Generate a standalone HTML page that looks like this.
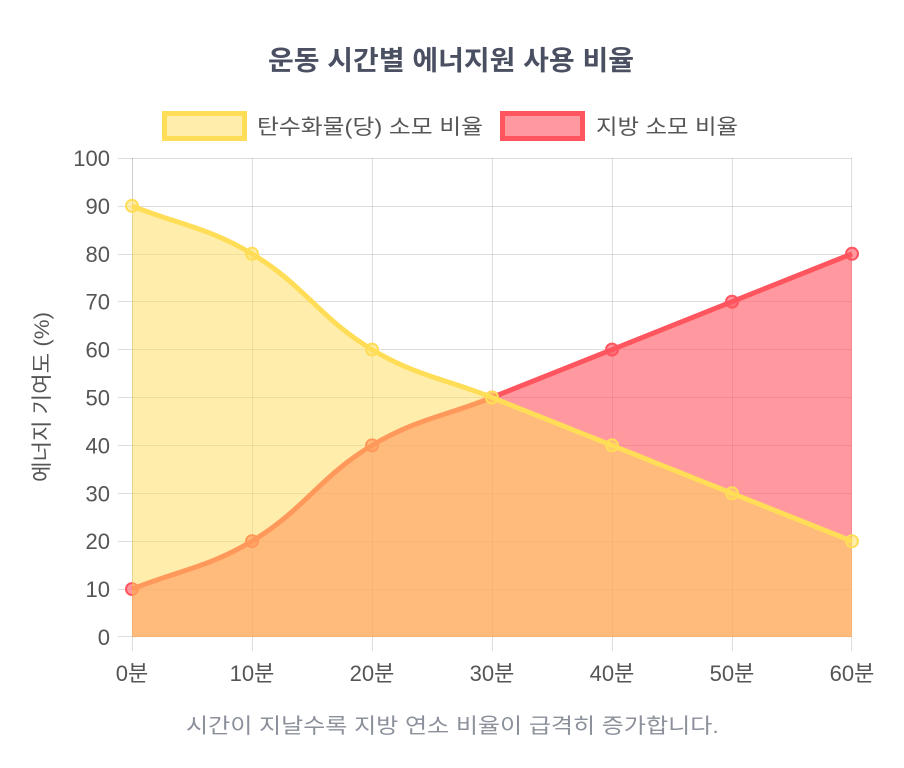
<!DOCTYPE html>
<html>
<head>
<meta charset="utf-8">
<style>
  html,body{margin:0;padding:0;background:#fff;}
  svg{display:block;}
  .t{font-family:"Liberation Sans","Noto Sans CJK KR",sans-serif;}
</style>
</head>
<body>
<svg width="904" height="768" viewBox="0 0 904 768" xmlns="http://www.w3.org/2000/svg">
  <rect width="904" height="768" fill="#fff"/>

  <!-- Title -->
  <text class="t" x="268" y="70" font-size="27" font-weight="bold" fill="#4a5062" textLength="366" lengthAdjust="spacingAndGlyphs">운동 시간별 에너지원 사용 비율</text>

  <!-- Legend -->
  <rect x="164.5" y="113.5" width="80" height="25" fill="rgba(255,221,87,0.5)" stroke="rgb(255,221,87)" stroke-width="5"/>
  <text class="t" x="257" y="134" font-size="21" fill="#555" textLength="226" lengthAdjust="spacingAndGlyphs">탄수화물(당) 소모 비율</text>
  <rect x="502.5" y="113.5" width="80" height="25" fill="rgba(255,85,95,0.6)" stroke="rgb(255,85,95)" stroke-width="5"/>
  <text class="t" x="596" y="134" font-size="21" fill="#555" textLength="142" lengthAdjust="spacingAndGlyphs">지방 소모 비율</text>

  <!-- Grid -->
  <g stroke="rgba(0,0,0,0.13)" stroke-width="1">
    <line x1="118" y1="158.5" x2="852" y2="158.5"/>
    <line x1="118" y1="206.5" x2="852" y2="206.5"/>
    <line x1="118" y1="254.5" x2="852" y2="254.5"/>
    <line x1="118" y1="301.5" x2="852" y2="301.5"/>
    <line x1="118" y1="349.5" x2="852" y2="349.5"/>
    <line x1="118" y1="397.5" x2="852" y2="397.5"/>
    <line x1="118" y1="445.5" x2="852" y2="445.5"/>
    <line x1="118" y1="493.5" x2="852" y2="493.5"/>
    <line x1="118" y1="541.5" x2="852" y2="541.5"/>
    <line x1="118" y1="589.5" x2="852" y2="589.5"/>
    <line x1="118" y1="636.5" x2="852" y2="636.5"/>
    <line x1="132.5" y1="158" x2="132.5" y2="651"/>
    <line x1="252.5" y1="158" x2="252.5" y2="651"/>
    <line x1="372.5" y1="158" x2="372.5" y2="651"/>
    <line x1="492.5" y1="158" x2="492.5" y2="651"/>
    <line x1="612.5" y1="158" x2="612.5" y2="651"/>
    <line x1="732.5" y1="158" x2="732.5" y2="651"/>
    <line x1="851.5" y1="158" x2="851.5" y2="651"/>
  </g>
  <g stroke="rgba(0,0,0,0.08)" stroke-width="1">
    <line x1="132.5" y1="158" x2="132.5" y2="637"/>
    <line x1="132" y1="636.5" x2="852" y2="636.5"/>
  </g>

  <!-- Fat dataset (drawn first) -->
  <path d="M132,589.1 C180,569.94 208.13,567.47 252,541.2 C304.13,509.99 319.87,476.61 372,445.4 C415.87,419.13 444,416.66 492,397.5 L852,253.8 L852,637 L132,637 Z" fill="rgba(255,85,95,0.6)"/>
  <path d="M132,589.1 C180,569.94 208.13,567.47 252,541.2 C304.13,509.99 319.87,476.61 372,445.4 C415.87,419.13 444,416.66 492,397.5 L852,253.8" fill="none" stroke="rgb(255,85,95)" stroke-width="5" stroke-linejoin="round"/>
  <g fill="rgba(255,85,95,0.6)" stroke="rgb(255,85,95)" stroke-width="2">
    <circle cx="132" cy="589.1" r="6"/>
    <circle cx="252" cy="541.2" r="6"/>
    <circle cx="372" cy="445.4" r="6"/>
    <circle cx="492" cy="397.5" r="6"/>
    <circle cx="612" cy="349.6" r="6"/>
    <circle cx="732" cy="301.7" r="6"/>
    <circle cx="852" cy="253.8" r="6"/>
  </g>

  <!-- Carb dataset -->
  <path d="M132,205.9 C180,225.06 208.13,227.53 252,253.8 C304.13,285.01 319.87,318.39 372,349.6 C415.87,375.87 444,378.34 492,397.5 L852,541.2 L852,637 L132,637 Z" fill="rgba(255,221,87,0.5)"/>
  <path d="M132,205.9 C180,225.06 208.13,227.53 252,253.8 C304.13,285.01 319.87,318.39 372,349.6 C415.87,375.87 444,378.34 492,397.5 L852,541.2" fill="none" stroke="rgb(255,221,87)" stroke-width="5" stroke-linejoin="round"/>
  <g fill="rgba(255,221,87,0.5)" stroke="rgb(255,221,87)" stroke-width="2">
    <circle cx="132" cy="205.9" r="6"/>
    <circle cx="252" cy="253.8" r="6"/>
    <circle cx="372" cy="349.6" r="6"/>
    <circle cx="492" cy="397.5" r="6"/>
    <circle cx="612" cy="445.4" r="6"/>
    <circle cx="732" cy="493.3" r="6"/>
    <circle cx="852" cy="541.2" r="6"/>
  </g>

  <!-- Y ticks -->
  <g class="t" font-size="22" fill="#555" text-anchor="end">
    <text x="110" y="166">100</text>
    <text x="110" y="213.9">90</text>
    <text x="110" y="261.8">80</text>
    <text x="110" y="309.7">70</text>
    <text x="110" y="357.6">60</text>
    <text x="110" y="405.5">50</text>
    <text x="110" y="453.4">40</text>
    <text x="110" y="501.3">30</text>
    <text x="110" y="549.2">20</text>
    <text x="110" y="597.1">10</text>
    <text x="110" y="645">0</text>
  </g>

  <!-- X ticks -->
  <g class="t" font-size="22" fill="#555" text-anchor="middle">
    <text x="132" y="681">0분</text>
    <text x="252" y="681">10분</text>
    <text x="372" y="681">20분</text>
    <text x="492" y="681">30분</text>
    <text x="612" y="681">40분</text>
    <text x="732" y="681">50분</text>
    <text x="852" y="681">60분</text>
  </g>

  <!-- Y axis title -->
  <g transform="translate(41,397) rotate(-90)">
    <text class="t" x="-85" y="8" font-size="21" fill="#555" textLength="170" lengthAdjust="spacingAndGlyphs">에너지 기여도 (%)</text>
  </g>

  <!-- Subtitle -->
  <text class="t" x="186" y="733" font-size="21" fill="#8b909b" textLength="533" lengthAdjust="spacingAndGlyphs">시간이 지날수록 지방 연소 비율이 급격히 증가합니다.</text>
</svg>
</body>
</html>
